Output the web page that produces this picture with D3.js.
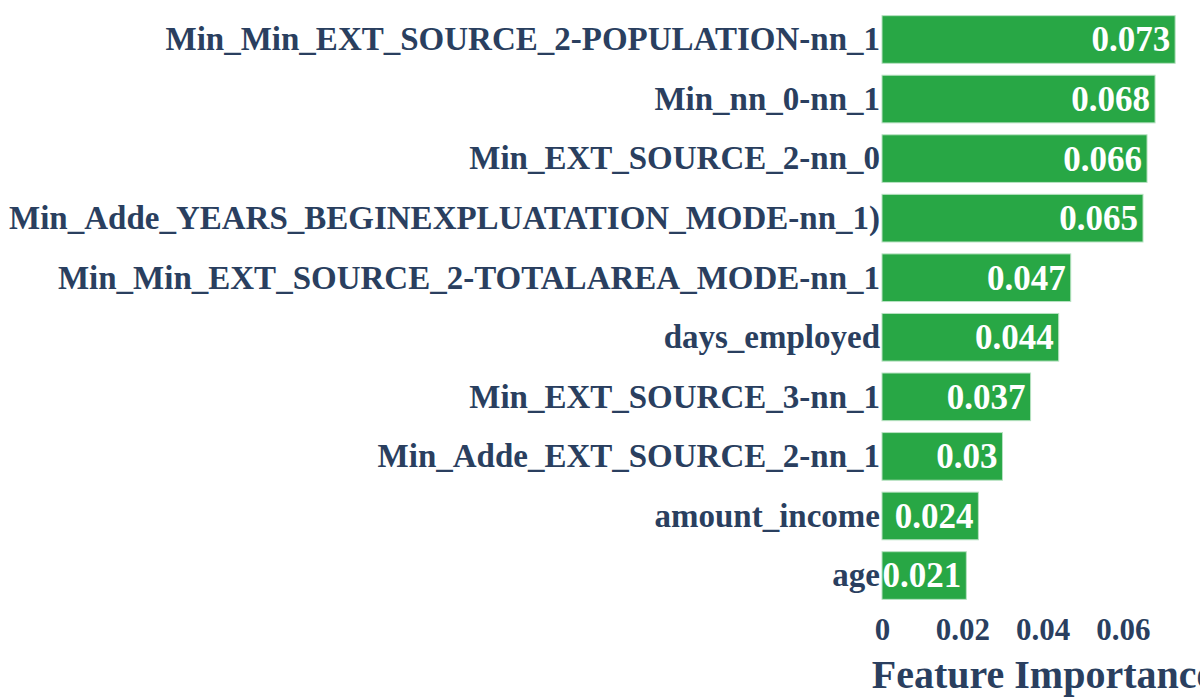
<!DOCTYPE html>
<html><head><meta charset="utf-8">
<script src="https://cdn.jsdelivr.net/npm/d3@7"></script>
<style>body{margin:0;background:#fff}svg{display:block}</style>
</head><body>
<script>
const features = ["Min_Min_EXT_SOURCE_2-POPULATION-nn_1","Min_nn_0-nn_1","Min_EXT_SOURCE_2-nn_0","Min_Adde_YEARS_BEGINEXPLUATATION_MODE-nn_1)","Min_Min_EXT_SOURCE_2-TOTALAREA_MODE-nn_1","days_employed","Min_EXT_SOURCE_3-nn_1","Min_Adde_EXT_SOURCE_2-nn_1","amount_income","age"];
const importances = [0.073,0.068,0.066,0.065,0.047,0.044,0.037,0.03,0.024,0.021];
const xTicks = [0,0.02,0.04,0.06];
const xTickLabels = ["0","0.02","0.04","0.06"];
const xTitle = "Feature Importance";

const W=1200,H=700;
const m={l:882,r:10,t:9.7,b:94.7};
const FONT="'Liberation Serif','Times New Roman',serif";
const TXT="#2a3f5f";
const svg=d3.select("body").append("svg").attr("width",W).attr("height",H);
const x=d3.scaleLinear().domain([0,0.0767]).range([m.l,W-m.r]);
const y=d3.scaleBand().domain(features).range([m.t,H-m.b]).paddingInner(0.2).paddingOuter(0.1);

const g=svg.append("g");
g.selectAll("rect").data(features).join("rect")
 .attr("x",x(0)).attr("y",d=>y(d))
 .attr("width",(d,i)=>x(importances[i])-x(0)).attr("height",y.bandwidth())
 .attr("fill","#28a745").attr("stroke","#b8e2c2").attr("stroke-width",1);

g.selectAll("text.val").data(features).join("text").attr("class","val")
 .attr("x",(d,i)=>x(importances[i])-5).attr("y",d=>y(d)+y.bandwidth()/2).attr("dy","0.34em")
 .attr("text-anchor","end").attr("fill","#fff").attr("font-family",FONT).attr("font-weight","bold").attr("font-size",35)
 .text((d,i)=>String(importances[i]));

const yAxis=d3.axisLeft(y).tickSize(0).tickPadding(2);
const ya=svg.append("g").attr("transform",`translate(${x(0)},0)`).call(yAxis);
ya.select(".domain").remove();
ya.selectAll("text").attr("font-family",FONT).attr("font-weight","bold").attr("font-size",33).attr("fill",TXT).attr("dy","0.33em");

const xAxis=d3.axisBottom(x).tickValues(xTicks).tickFormat((d,i)=>xTickLabels[i]).tickSize(0).tickPadding(0);
const xa=svg.append("g").attr("transform",`translate(0,${H-m.b})`).call(xAxis);
xa.select(".domain").remove();
xa.selectAll("text").attr("font-family",FONT).attr("font-weight","bold").attr("font-size",31).attr("fill",TXT).attr("dy",null).attr("y",35);

svg.append("text").attr("x",1043).attr("y",688).attr("text-anchor","middle")
 .attr("font-family",FONT).attr("font-weight","bold").attr("font-size",40).attr("fill",TXT).text(xTitle);
</script>
</body></html>
